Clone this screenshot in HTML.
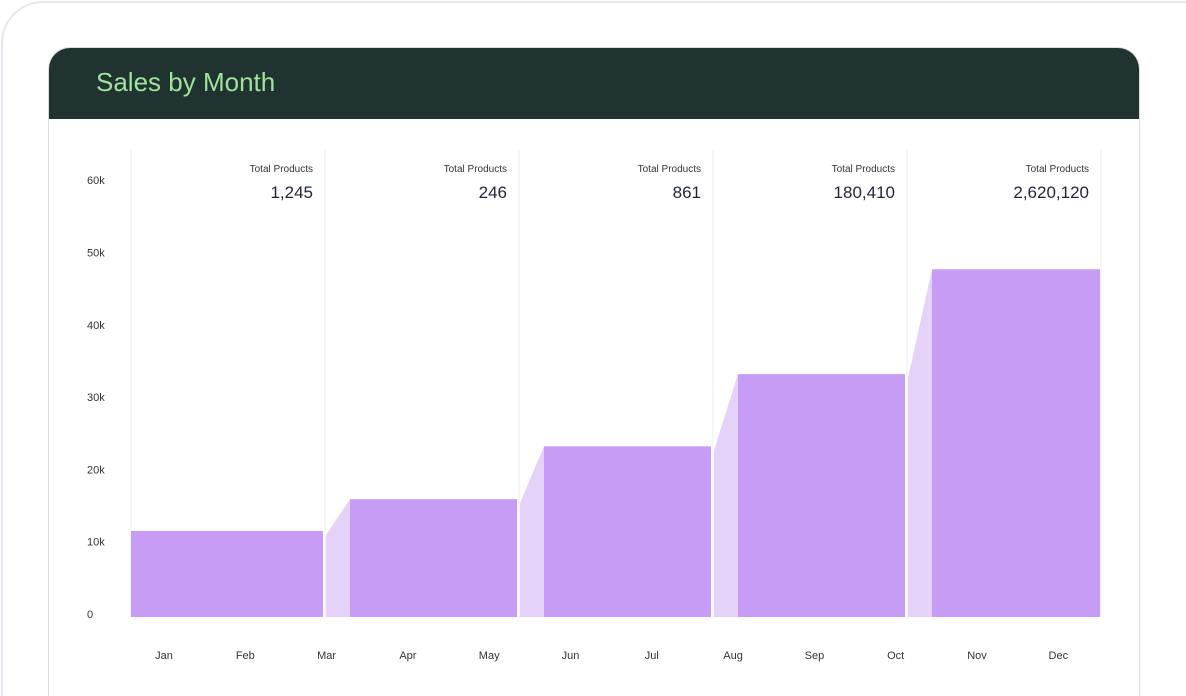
<!DOCTYPE html>
<html style="width:1186px;height:696px;overflow:hidden"><head><meta charset="utf-8"><style>
html,body{margin:0;width:1186px;height:696px;overflow:hidden}
body{background:#fff;font-family:"Liberation Sans",sans-serif;position:relative}
.outer{position:absolute;left:1px;top:1px;width:1185px;height:695px;border:2px solid #e6e6ee;border-right:none;border-bottom:none;border-radius:42px 0 0 0;box-sizing:border-box}
.card{position:absolute;left:48px;top:47px;width:1092px;height:649px;border:1.5px solid #dcdcdc;border-bottom:none;border-radius:22px 22px 0 0;overflow:hidden;background:#fff;box-sizing:border-box}
.hdr{height:71px;background:#213330;}
.title{position:absolute;left:47px;top:19px;font-size:26px;color:#9fe39c;}
</style></head><body>
<div class="outer"></div>
<div class="card">
<div class="hdr"><div class="title">Sales by Month</div></div>
</div>
<svg id="c" width="1186" height="696" style="position:absolute;left:0;top:0"></svg>
<script>
const months=["Jan","Feb","Mar","Apr","May","Jun","Jul","Aug","Sep","Oct","Nov","Dec"];
const yTicks=[0,10000,20000,30000,40000,50000,60000];
const yTickLabels=["0","10k","20k","30k","40k","50k","60k"];
const periodValues=[11900,16300,23600,33600,48100];
const totalProducts=["1,245","246","861","180,410","2,620,120"];
const NS="http://www.w3.org/2000/svg",svg=document.getElementById('c');
const y0=617,pxPer=72.3/10000;
const y=v=>y0-v*pxPer;
const colX=i=>131+i*194;
function el(t,a,txt){const e=document.createElementNS(NS,t);for(const k in a)e.setAttribute(k,a[k]);if(txt!=null)e.textContent=txt;svg.appendChild(e);return e;}
yTicks.forEach((t,i)=>{const e=el('text',{x:87,y:y(t)+1,'font-size':11,fill:'#333','font-family':'Liberation Sans'},yTickLabels[i]);

});
for(let i=0;i<=periodValues.length;i++){const e=el('line',{x1:colX(i),x2:colX(i),y1:150,y2:617,stroke:'#eeeef4','stroke-width':1});

}
periodValues.forEach((v,i)=>{
 const L=colX(i),R=colX(i+1);
 if(i>0){const pv=periodValues[i-1];const p=el('polygon',{points:`${L+1},${y(pv)+4} ${L+25},${y(v)} ${L+25},${y0} ${L+1},${y0}`,fill:'#e4d2f8'});
 
 }
 const bx=i===0?L:L+25,bR=(i===periodValues.length-1?1100:R-2);
 const r=el('rect',{x:bx,y:y(v),width:bR-bx,height:y0-y(v),fill:'#c79cf4'});
 
 
 const a=el('text',{x:R-12,y:172,'font-size':10,fill:'#333','text-anchor':'end','font-family':'Liberation Sans'},'Total Products');
 
 
 const b=el('text',{x:R-12,y:198,'font-size':17,fill:'#1e2340','text-anchor':'end','font-family':'Liberation Sans'},totalProducts[i]);
 
 
});
months.forEach((m,i)=>{const e=el('text',{x:164+i*81.3,y:659,'font-size':11,fill:'#333','text-anchor':'middle','font-family':'Liberation Sans'},m);

});
</script>
</body></html>
